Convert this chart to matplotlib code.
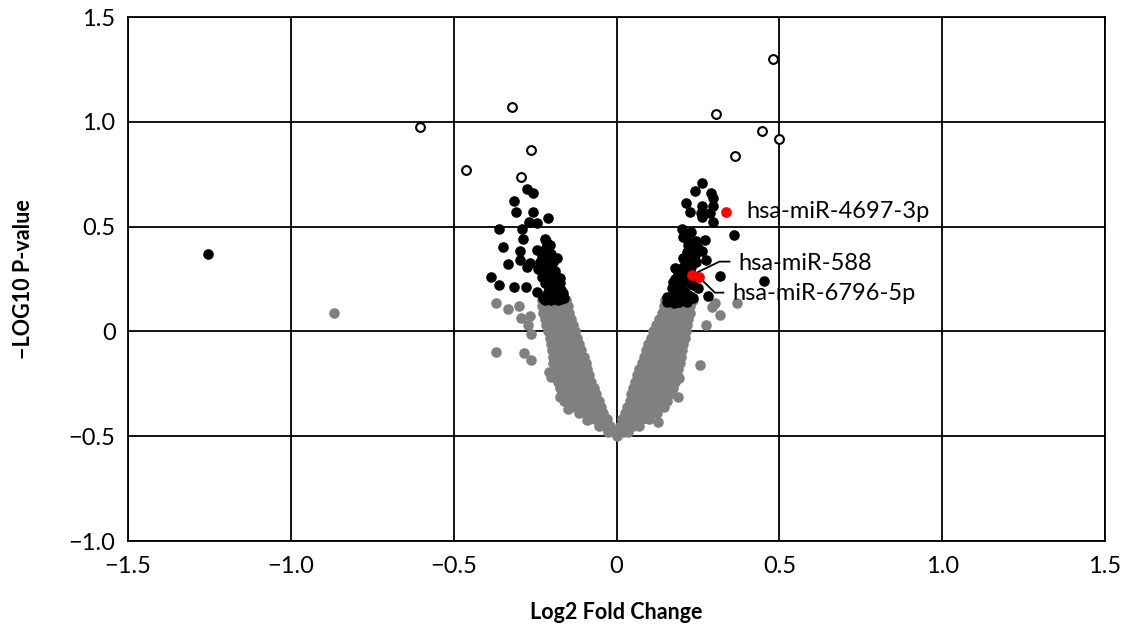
import matplotlib
matplotlib.use("Agg")
import matplotlib.pyplot as plt

plt.rcParams['font.family'] = ['Lato', 'DejaVu Sans']

# grey: not significant (V-shaped cloud + scattered)
grey_x = [
    -0.23, -0.21, -0.19, -0.17, -0.155,
    -0.228, -0.208, -0.188, -0.168, -0.15,
    -0.226, -0.205, -0.185, -0.165, -0.145,
    -0.22, -0.20, -0.18, -0.16, -0.14,
    -0.215, -0.195, -0.175, -0.155, -0.135,
    -0.21, -0.19, -0.17, -0.15, -0.128,
    -0.205, -0.185, -0.165, -0.145, -0.12,
    -0.20, -0.18, -0.16, -0.14, -0.115,
    -0.198, -0.178, -0.158, -0.138, -0.118, -0.108,
    -0.196, -0.175, -0.155, -0.135, -0.115, -0.10,
    -0.195, -0.173, -0.152, -0.131, -0.11, -0.095,
    -0.19, -0.17, -0.15, -0.13, -0.11, -0.09,
    -0.185, -0.165, -0.145, -0.125, -0.105, -0.083,
    -0.18, -0.16, -0.14, -0.12, -0.10, -0.077,
    -0.172, -0.152, -0.132, -0.112, -0.092, -0.07,
    -0.167, -0.146, -0.125, -0.104, -0.083, -0.063,
    -0.16, -0.14, -0.12, -0.10, -0.078, -0.055,
    -0.14, -0.12, -0.10, -0.08, -0.064, -0.048,
    -0.115, -0.095, -0.077, -0.058, -0.04,
    -0.085, -0.067, -0.048, -0.03,
    -0.055, -0.037, -0.02,
    -0.025, -0.008,
    0.0,
    0.15, 0.17, 0.19, 0.21, 0.235,
    0.147, 0.167, 0.187, 0.207, 0.227,
    0.14, 0.16, 0.18, 0.20, 0.225,
    0.13, 0.15, 0.17, 0.19, 0.205, 0.22,
    0.12, 0.14, 0.16, 0.18, 0.20, 0.215,
    0.112, 0.132, 0.152, 0.172, 0.192, 0.212,
    0.105, 0.125, 0.145, 0.165, 0.185, 0.21,
    0.097, 0.117, 0.137, 0.157, 0.177, 0.205,
    0.09, 0.11, 0.13, 0.15, 0.17, 0.19, 0.202,
    0.083, 0.103, 0.123, 0.143, 0.163, 0.183, 0.198,
    0.077, 0.097, 0.117, 0.137, 0.157, 0.177, 0.195,
    0.07, 0.09, 0.11, 0.13, 0.15, 0.17, 0.19,
    0.064, 0.084, 0.104, 0.124, 0.144, 0.164, 0.185,
    0.058, 0.078, 0.098, 0.118, 0.138, 0.158, 0.18,
    0.052, 0.072, 0.092, 0.112, 0.132, 0.152, 0.172,
    0.046, 0.066, 0.086, 0.106, 0.126, 0.146, 0.165,
    0.04, 0.06, 0.08, 0.10, 0.12, 0.14, 0.155,
    0.032, 0.052, 0.072, 0.092, 0.112, 0.13, 0.145,
    0.025, 0.045, 0.065, 0.085, 0.105, 0.125,
    0.017, 0.037, 0.057, 0.077, 0.10,
    0.01, 0.03, 0.05, 0.07,
    0.003, 0.02, 0.035,
    -0.37, -0.334, -0.299, -0.293, -0.266, -0.271, -0.263, -0.37,
    -0.283, -0.263, -0.206, -0.202, -0.175, -0.148, -0.09, -0.867,
    0.302, 0.318, 0.369, 0.276, 0.292, 0.256, 0.193, 0.188, 0.128,
]
grey_y = [
    0.15, 0.15, 0.15, 0.15, 0.15,
    0.12, 0.12, 0.12, 0.12, 0.12,
    0.09, 0.09, 0.09, 0.09, 0.09,
    0.06, 0.06, 0.06, 0.06, 0.06,
    0.03, 0.03, 0.03, 0.03, 0.03,
    0.0, 0.0, 0.0, 0.0, 0.0,
    -0.03, -0.03, -0.03, -0.03, -0.03,
    -0.06, -0.06, -0.06, -0.06, -0.06,
    -0.09, -0.09, -0.09, -0.09, -0.09, -0.09,
    -0.12, -0.12, -0.12, -0.12, -0.12, -0.12,
    -0.15, -0.15, -0.15, -0.15, -0.15, -0.15,
    -0.18, -0.18, -0.18, -0.18, -0.18, -0.18,
    -0.21, -0.21, -0.21, -0.21, -0.21, -0.21,
    -0.24, -0.24, -0.24, -0.24, -0.24, -0.24,
    -0.27, -0.27, -0.27, -0.27, -0.27, -0.27,
    -0.30, -0.30, -0.30, -0.30, -0.30, -0.30,
    -0.33, -0.33, -0.33, -0.33, -0.33, -0.33,
    -0.36, -0.36, -0.36, -0.36, -0.36, -0.36,
    -0.39, -0.39, -0.39, -0.39, -0.39,
    -0.42, -0.42, -0.42, -0.42,
    -0.45, -0.45, -0.45,
    -0.48, -0.48,
    -0.50,
    0.15, 0.15, 0.15, 0.15, 0.15,
    0.12, 0.12, 0.12, 0.12, 0.12,
    0.09, 0.09, 0.09, 0.09, 0.09,
    0.06, 0.06, 0.06, 0.06, 0.06, 0.06,
    0.03, 0.03, 0.03, 0.03, 0.03, 0.03,
    0.0, 0.0, 0.0, 0.0, 0.0, 0.0,
    -0.03, -0.03, -0.03, -0.03, -0.03, -0.03,
    -0.06, -0.06, -0.06, -0.06, -0.06, -0.06,
    -0.09, -0.09, -0.09, -0.09, -0.09, -0.09, -0.09,
    -0.12, -0.12, -0.12, -0.12, -0.12, -0.12, -0.12,
    -0.15, -0.15, -0.15, -0.15, -0.15, -0.15, -0.15,
    -0.18, -0.18, -0.18, -0.18, -0.18, -0.18, -0.18,
    -0.21, -0.21, -0.21, -0.21, -0.21, -0.21, -0.21,
    -0.24, -0.24, -0.24, -0.24, -0.24, -0.24, -0.24,
    -0.27, -0.27, -0.27, -0.27, -0.27, -0.27, -0.27,
    -0.30, -0.30, -0.30, -0.30, -0.30, -0.30, -0.30,
    -0.33, -0.33, -0.33, -0.33, -0.33, -0.33, -0.33,
    -0.36, -0.36, -0.36, -0.36, -0.36, -0.36, -0.36,
    -0.39, -0.39, -0.39, -0.39, -0.39, -0.39,
    -0.42, -0.42, -0.42, -0.42, -0.42,
    -0.45, -0.45, -0.45, -0.45,
    -0.48, -0.48, -0.48,
    0.137, 0.105, 0.123, 0.065, 0.073, 0.030, -0.014, -0.097,
    -0.105, -0.136, -0.192, -0.216, -0.311, -0.372, -0.423, 0.086,
    0.134, 0.078, 0.137, 0.030, 0.118, -0.160, -0.224, -0.311, -0.431,
]

# black: p-value above threshold
black_x = [
    -1.253, 0.454,
    -0.276, -0.256, -0.315, -0.309, -0.256, -0.210, -0.268, -0.243,
    -0.361, -0.290, -0.286, -0.219, -0.350, -0.296, -0.245, -0.215,
    -0.199, -0.184, -0.296, -0.332, -0.266, -0.235, -0.276, -0.210,
    -0.225, -0.199, -0.174, -0.215, -0.210, -0.184, -0.385, -0.360,
    -0.315, -0.279, -0.243, -0.210, -0.164, -0.194, -0.169, -0.220,
    -0.215, -0.205, -0.22, -0.20, -0.23, -0.215, -0.195, -0.24,
    -0.225, -0.19, -0.23, -0.21, -0.19, -0.175, -0.22, -0.20,
    -0.185, -0.17, -0.215, -0.19, -0.175, -0.20, -0.18, -0.16, -0.225,
    0.262, 0.241, 0.290, 0.295, 0.214, 0.264, 0.295, 0.226, 0.260,
    0.287, 0.297, 0.262, 0.202, 0.230, 0.271, 0.362, 0.205, 0.230,
    0.262, 0.214, 0.241, 0.276, 0.205, 0.230, 0.180, 0.195, 0.318,
    0.174, 0.214, 0.251, 0.282, 0.169, 0.200, 0.154, 0.184, 0.226,
    0.235, 0.192, 0.217,
    0.215, 0.245, 0.22, 0.25, 0.215, 0.23, 0.205, 0.22, 0.245,
    0.19, 0.21, 0.225, 0.18, 0.20, 0.225, 0.185, 0.21, 0.175,
    0.20, 0.165, 0.185, 0.21, 0.235, 0.155, 0.175,
]
black_y = [
    0.368, 0.240,
    0.679, 0.659, 0.622, 0.568, 0.568, 0.540, 0.520, 0.516,
    0.487, 0.487, 0.439, 0.439, 0.404, 0.385, 0.388, 0.396,
    0.356, 0.349, 0.341, 0.322, 0.325, 0.333, 0.309, 0.309,
    0.277, 0.269, 0.253, 0.245, 0.221, 0.221, 0.261, 0.221,
    0.213, 0.213, 0.187, 0.189, 0.185, 0.158, 0.153, 0.150,
    0.43, 0.41, 0.39, 0.37, 0.36, 0.34, 0.33, 0.30,
    0.30, 0.29, 0.26, 0.25, 0.25, 0.23, 0.23, 0.20,
    0.20, 0.20, 0.17, 0.17, 0.17, 0.15, 0.15, 0.16, 0.16,
    0.707, 0.671, 0.662, 0.635, 0.611, 0.600, 0.598, 0.571, 0.563,
    0.563, 0.520, 0.547, 0.487, 0.476, 0.436, 0.460, 0.452, 0.404,
    0.385, 0.354, 0.364, 0.341, 0.309, 0.309, 0.301, 0.261, 0.266,
    0.237, 0.245, 0.206, 0.169, 0.206, 0.198, 0.163, 0.158, 0.169,
    0.221, 0.142, 0.142,
    0.44, 0.43, 0.41, 0.40, 0.38, 0.37, 0.35, 0.33, 0.33,
    0.28, 0.28, 0.29, 0.25, 0.23, 0.23, 0.20, 0.19, 0.18,
    0.17, 0.16, 0.15, 0.155, 0.16, 0.14, 0.135,
]

# open circles: highest -log10 p
open_x = [-0.604, -0.322, -0.463, -0.263, -0.293, 0.481, 0.305, 0.446, 0.499, 0.364]
open_y = [0.974, 1.072, 0.772, 0.864, 0.737, 1.301, 1.037, 0.956, 0.918, 0.837]

# highlighted miRNAs
red_names = ['hsa-miR-4697-3p', 'hsa-miR-588', 'hsa-miR-6796-5p']
red_x = [0.336, 0.231, 0.254]
red_y = [0.570, 0.269, 0.258]
label_x = [0.398, 0.373, 0.355]
label_y = [0.570, 0.322, 0.183]
elbow_x = [None, 0.316, 0.302]
elbow_y = [None, 0.333, 0.185]
leader_end_x = [None, 0.347, 0.328]

fig, ax = plt.subplots(figsize=(11.4, 6.28), dpi=100)
fig.subplots_adjust(left=0.1123, right=0.9693, bottom=0.1385, top=0.9729)

ax.scatter(grey_x, grey_y, s=58, color='#808080', linewidths=0, zorder=3)
ax.scatter(black_x, black_y, s=58, color='black', linewidths=0, zorder=4)
ax.scatter(open_x, open_y, s=40, facecolor='white', edgecolor='black',
           linewidths=1.5, zorder=4)
ax.scatter(red_x, red_y, s=60, color='#ff0000', linewidths=0, zorder=6)

for i in range(len(red_names)):
    if elbow_x[i] is not None:
        ax.plot([red_x[i], elbow_x[i], leader_end_x[i]],
                [red_y[i], elbow_y[i], elbow_y[i]],
                color='black', lw=1.3, zorder=5)
    ax.text(label_x[i], label_y[i], red_names[i], fontsize=17,
            va='center', ha='left', zorder=7)

ax.set_xlim(-1.5, 1.5)
ax.set_ylim(-1.0, 1.5)
ax.set_xticks([-1.5, -1.0, -0.5, 0, 0.5, 1.0, 1.5])
ax.set_xticklabels(['\u22121.5', '\u22121.0', '\u22120.5', '0', '0.5', '1.0', '1.5'])
ax.set_yticks([-1.0, -0.5, 0, 0.5, 1.0, 1.5])
ax.set_yticklabels(['\u22121.0', '\u22120.5', '0', '0.5', '1.0', '1.5'])
ax.tick_params(axis='both', length=0, labelsize=17)
ax.tick_params(axis='x', pad=11)
ax.tick_params(axis='y', pad=9)
ax.grid(True, color='black', lw=1.3, zorder=1)
ax.set_axisbelow(True)
for sp in ax.spines.values():
    sp.set_linewidth(1.3)

ax.set_xlabel('Log2 Fold Change', fontsize=15.5, fontweight='bold')
ax.set_ylabel('\u2212LOG10 P-value', fontsize=15.5, fontweight='bold')
ax.xaxis.set_label_coords(0.5, -0.117)
ax.yaxis.set_label_coords(-0.0965, 0.5)

fig.savefig('out.png', dpi=100)
